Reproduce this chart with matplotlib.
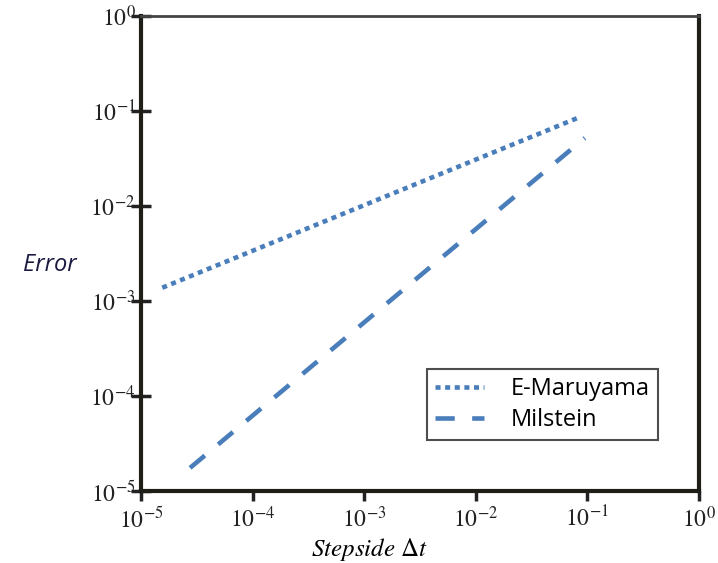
import matplotlib
matplotlib.use("Agg")
import matplotlib.pyplot as plt
from matplotlib.ticker import FixedLocator, NullLocator

plt.rcParams["mathtext.fontset"] = "stix"

# end points of each straight log-log line
em_dt = [1.55e-5, 0.081]
em_err = [1.38e-3, 0.084]
mil_dt = [2.75e-5, 0.095]
mil_err = [1.75e-5, 0.052]

decades = [1e-5, 1e-4, 1e-3, 1e-2, 1e-1, 1e0]
decade_labels = [r"$10^{-5}$", r"$10^{-4}$", r"$10^{-3}$", r"$10^{-2}$", r"$10^{-1}$", r"$10^{0}$"]

blue = "#4a7ebb"
lw = 3.3

fig = plt.figure(figsize=(7.18, 5.63), dpi=100)
ax = fig.add_axes([0.1964, 0.1279, 0.777, 0.8437])

ax.plot(em_dt, em_err, color=blue, lw=lw, linestyle=(0, (1.1, 1.0)),
        dash_capstyle="butt", label="E-Maruyama")
ax.plot(mil_dt, mil_err, color=blue, lw=lw, linestyle=(0, (4.2, 3.8)),
        dash_capstyle="butt", label="Milstein")

ax.set_xscale("log")
ax.set_yscale("log")
ax.set_xlim(1e-5, 1e0)
ax.set_ylim(1e-5, 1e0)

ax.xaxis.set_major_locator(FixedLocator(decades))
ax.yaxis.set_major_locator(FixedLocator(decades))
ax.xaxis.set_minor_locator(NullLocator())
ax.yaxis.set_minor_locator(NullLocator())
ax.set_xticklabels(decade_labels)
ax.set_yticklabels(decade_labels)
ax.tick_params(axis="x", direction="out", length=7, width=2.5, pad=4,
               labelsize=17, colors="#222222")
ax.tick_params(axis="y", direction="inout", length=14, width=2.5, pad=-3,
               labelsize=17, colors="#222222")

for side in ["left", "bottom", "right"]:
    ax.spines[side].set_linewidth(3)
    ax.spines[side].set_color("#1f1d18")
ax.spines["top"].set_linewidth(2)
ax.spines["top"].set_color("#444444")

ax.set_xlabel(r"$Stepside\ \Delta t$", fontsize=18)
ax.xaxis.set_label_coords(0.41, -0.095)
ax.set_ylabel("Error", fontsize=17, style="italic", family="Open Sans",
              rotation=0, color="#1a1a40", va="center")
ax.yaxis.set_label_coords(-0.163, 0.475)

leg = ax.legend(loc="lower right", bbox_to_anchor=(0.926, 0.107),
                borderaxespad=0,
                prop={"family": "Open Sans", "size": 17},
                frameon=True, fancybox=False, edgecolor="#222222",
                handlelength=2.1, handletextpad=1.1, borderpad=0.35,
                labelspacing=0.3)
leg.get_frame().set_linewidth(1.5)

fig.savefig("out.png", dpi=100)
